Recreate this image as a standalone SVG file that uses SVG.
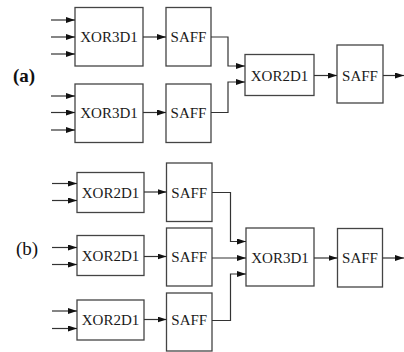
<svg xmlns="http://www.w3.org/2000/svg" width="404" height="352" viewBox="0 0 404 352">
<style>
.box{fill:#fff;stroke:#444;stroke-width:1.3}
.w{fill:none;stroke:#333;stroke-width:1.2}
.t{font-family:"Liberation Serif","Times New Roman",serif;font-size:15px;fill:#1a1a1a;text-anchor:middle}
.lab{font-family:"Liberation Serif","Times New Roman",serif;font-size:19px;fill:#111}
</style>
<defs>
<marker id="ah" markerUnits="userSpaceOnUse" markerWidth="9" markerHeight="6" refX="9" refY="3" orient="auto">
<path d="M0,0 L9,3 L0,6 z" fill="#111"/>
</marker>
</defs>
<rect width="404" height="352" fill="#fff"/>
<text class="lab" x="13" y="82" font-weight="bold">(a)</text>
<text class="lab" x="16" y="255">(b)</text>

<g id="a_xor3_1"><rect class="box" x="75" y="7.5" width="68" height="58.5"/><text class="t" x="109" y="42">XOR3D1</text></g>
<g id="a_saff_1"><rect class="box" x="166" y="7.5" width="45" height="58.5"/><text class="t" x="188.5" y="42">SAFF</text></g>
<g id="a_xor3_2"><rect class="box" x="75" y="84" width="68" height="58.5"/><text class="t" x="109" y="118">XOR3D1</text></g>
<g id="a_saff_2"><rect class="box" x="166" y="84" width="45" height="58.5"/><text class="t" x="188.5" y="118">SAFF</text></g>
<g id="a_xor2"><rect class="box" x="245" y="54.5" width="69" height="41"/><text class="t" x="279.5" y="80.5">XOR2D1</text></g>
<g id="a_saff_3"><rect class="box" x="337" y="45" width="46" height="58"/><text class="t" x="360" y="80.5">SAFF</text></g>

<g id="b_xor2_1"><rect class="box" x="77" y="172.5" width="67" height="40"/><text class="t" x="110.5" y="197.5">XOR2D1</text></g>
<g id="b_saff_1"><rect class="box" x="166.5" y="163" width="45.5" height="58.5"/><text class="t" x="189.25" y="197.5">SAFF</text></g>
<g id="b_xor2_2"><rect class="box" x="77" y="235.5" width="67" height="40"/><text class="t" x="110.5" y="261">XOR2D1</text></g>
<g id="b_saff_2"><rect class="box" x="166.5" y="228" width="45.5" height="58"/><text class="t" x="189.25" y="262">SAFF</text></g>
<g id="b_xor2_3"><rect class="box" x="77" y="300" width="67" height="40"/><text class="t" x="110.5" y="325">XOR2D1</text></g>
<g id="b_saff_3"><rect class="box" x="166.5" y="293" width="45.5" height="58"/><text class="t" x="189.25" y="325">SAFF</text></g>
<g id="b_xor3"><rect class="box" x="246" y="228" width="68" height="58"/><text class="t" x="280" y="263">XOR3D1</text></g>
<g id="b_saff_4"><rect class="box" x="337.5" y="228.5" width="45" height="58.5"/><text class="t" x="360" y="263">SAFF</text></g>

<g id="connectors" class="w">
<line x1="51" y1="20" x2="75" y2="20" marker-end="url(#ah)"/>
<line x1="51" y1="37" x2="75" y2="37" marker-end="url(#ah)"/>
<line x1="51" y1="54" x2="75" y2="54" marker-end="url(#ah)"/>
<line x1="51" y1="96" x2="75" y2="96" marker-end="url(#ah)"/>
<line x1="51" y1="112.5" x2="75" y2="112.5" marker-end="url(#ah)"/>
<line x1="51" y1="130" x2="75" y2="130" marker-end="url(#ah)"/>
<line x1="143" y1="37" x2="166" y2="37" marker-end="url(#ah)"/>
<line x1="143" y1="112.5" x2="166" y2="112.5" marker-end="url(#ah)"/>
<polyline points="211,37 228,37 228,66 245,66" marker-end="url(#ah)"/>
<polyline points="211,112.5 228,112.5 228,82 245,82" marker-end="url(#ah)"/>
<line x1="314" y1="75.5" x2="337" y2="75.5" marker-end="url(#ah)"/>
<line x1="383" y1="75.5" x2="404" y2="75.5" marker-end="url(#ah)"/>

<line x1="52" y1="183.5" x2="77" y2="183.5" marker-end="url(#ah)"/>
<line x1="52" y1="200.5" x2="77" y2="200.5" marker-end="url(#ah)"/>
<line x1="52" y1="247.5" x2="77" y2="247.5" marker-end="url(#ah)"/>
<line x1="52" y1="264.5" x2="77" y2="264.5" marker-end="url(#ah)"/>
<line x1="52" y1="311" x2="77" y2="311" marker-end="url(#ah)"/>
<line x1="52" y1="328.5" x2="77" y2="328.5" marker-end="url(#ah)"/>
<line x1="144" y1="192" x2="166.5" y2="192" marker-end="url(#ah)"/>
<line x1="144" y1="256.5" x2="166.5" y2="256.5" marker-end="url(#ah)"/>
<line x1="144" y1="319.5" x2="166.5" y2="319.5" marker-end="url(#ah)"/>
<polyline points="212,192.5 230.5,192.5 230.5,241.5 246,241.5" marker-end="url(#ah)"/>
<line x1="212" y1="258" x2="246" y2="258" marker-end="url(#ah)"/>
<polyline points="212,320.5 230.5,320.5 230.5,274 246,274" marker-end="url(#ah)"/>
<line x1="314" y1="258" x2="337.5" y2="258" marker-end="url(#ah)"/>
<line x1="382.5" y1="258" x2="404" y2="258" marker-end="url(#ah)"/>
</g>
</svg>
